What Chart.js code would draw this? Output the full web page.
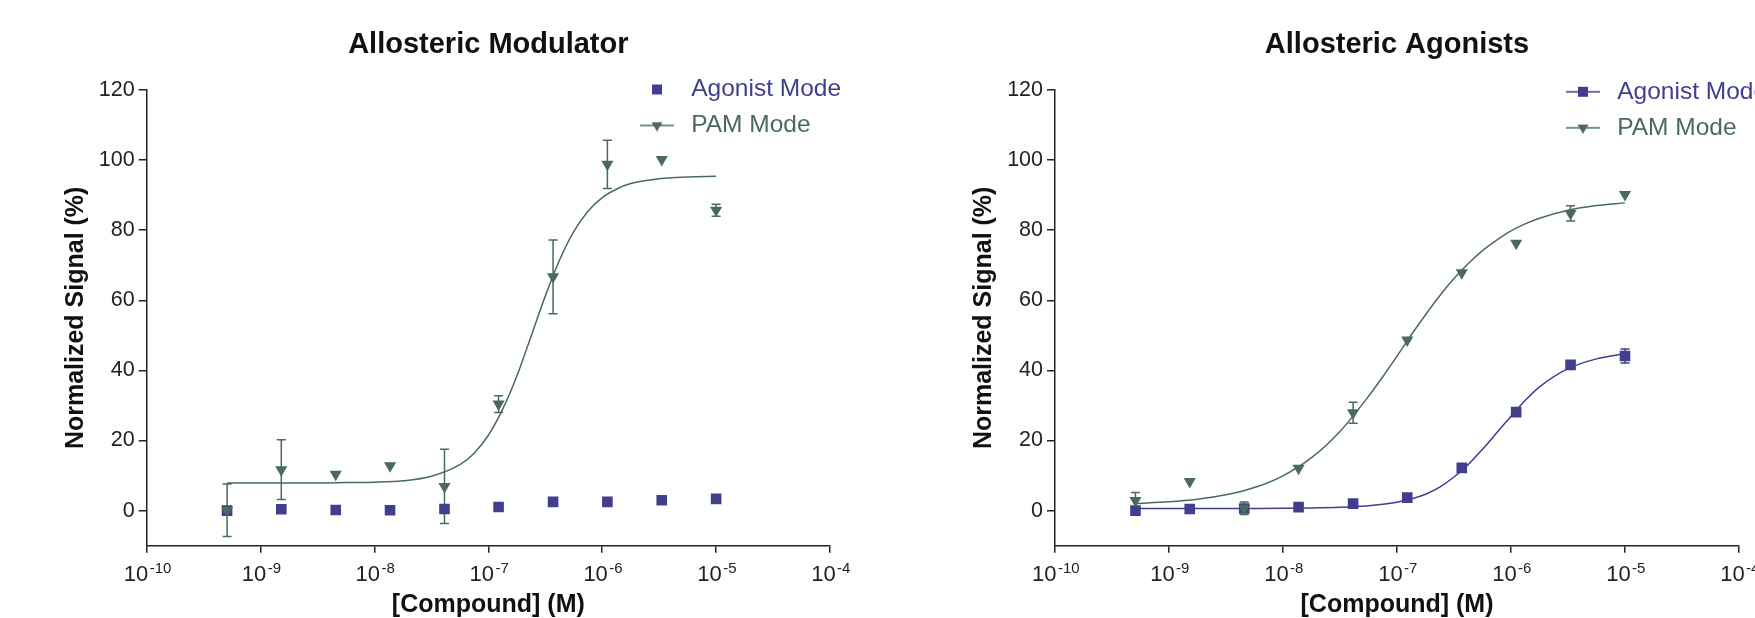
<!DOCTYPE html>
<html>
<head>
<meta charset="utf-8">
<script src="https://cdn.jsdelivr.net/npm/chart.js@4.4.0/dist/chart.umd.min.js"></script>
<style>
html,body{margin:0;padding:0;background:#fff;overflow:hidden;width:1755px;height:618px;}
.c{position:absolute;top:0;}
</style>
</head>
<body>
<div class="c" style="left:0px"><canvas id="c1" width="877" height="618"></canvas></div>
<div class="c" style="left:908px"><canvas id="c2" width="847" height="618"></canvas></div>
<script>
// ---------- DATA ----------
const concentrations = [5.08e-10, 1.52e-9, 4.57e-9, 1.37e-8, 4.12e-8, 1.23e-7, 3.70e-7, 1.11e-6, 3.33e-6, 1.0e-5];
const xTickValues = [1e-10, 1e-9, 1e-8, 1e-7, 1e-6, 1e-5, 1e-4];
const xTickBase = '10';
const xTickExponents = ['-10', '-9', '-8', '-7', '-6', '-5', '-4'];
const yTickValues = [0, 20, 40, 60, 80, 100, 120];

// Allosteric Modulator panel
const modAgonist = [0.0, 0.4, 0.2, 0.1, 0.45, 1.05, 2.5, 2.5, 2.95, 3.35];
const modPam = [0.1, 11.7, 10.4, 12.8, 6.9, 30.4, 66.7, 98.8, 100.2, 85.7];
const modPamErr = [7.5, 8.5, 0, 0, 10.6, 2.4, 10.5, 6.9, 0, 1.7];

// fitted curves
const curveConc = [5.08e-10, 1e-9, 1.78e-9, 3.16e-9, 5.62e-9, 1e-8, 1.78e-8, 3.16e-8, 5.62e-8, 7.5e-8, 1e-7, 1.33e-7, 1.78e-7, 2.37e-7, 3.16e-7, 4.22e-7, 5.62e-7, 7.5e-7, 1e-6, 1.33e-6, 1.78e-6, 3.16e-6, 5.62e-6, 1e-5];
const modPamFit = [7.9, 7.9, 7.9, 7.9, 8.0, 8.1, 8.5, 9.8, 13.1, 16.4, 21.5, 28.8, 38.4, 49.7, 61.2, 71.5, 79.6, 85.4, 89.3, 91.7, 93.3, 94.7, 95.2, 95.4];

// Allosteric Agonists panel
const agoAgonist = [0.0, 0.45, 0.6, 1.0, 2.0, 3.7, 12.2, 28.1, 41.6, 44.1];
const agoAgonistErr = [0, 0, 0, 0, 0, 0, 0, 0, 0, 2.0];
const agoPam = [2.9, 8.3, 0.7, 12.1, 27.9, 48.7, 67.9, 76.3, 84.8, 90.2];
const agoPamErr = [2.3, 0, 1.8, 0, 3.0, 0, 0, 0, 2.2, 0];
const agoAgonistFit = [0.6, 0.6, 0.6, 0.61, 0.63, 0.66, 0.74, 0.94, 1.39, 1.8, 2.42, 3.33, 4.69, 6.7, 9.6, 13.2, 17.5, 22.2, 26.9, 31.4, 35.3, 40.5, 43.3, 44.8];
const agoPamFit = [2.05, 2.53, 3.28, 4.52, 6.58, 9.94, 15.1, 22.6, 32.6, 38.2, 44.1, 50.1, 55.9, 61.3, 66.2, 70.5, 74.2, 77.2, 79.8, 81.8, 83.4, 85.7, 87.05, 87.8];

// ---------- STYLE ----------
const FONT = '"Liberation Sans", Arial, Helvetica, sans-serif';
const AGO = '#413e8e';
const PAM = '#4a6b5a';
const AXIS = '#222222';
Chart.defaults.color = '#222';
Chart.defaults.font.family = FONT;

function zip(xs, ys) { return xs.map((x, i) => ({x: x, y: ys[i]})); }

function makeIcon(color, shape, withLine) {
  const c = document.createElement('canvas');
  c.width = 36; c.height = 18;
  const g = c.getContext('2d');
  if (withLine) {
    g.strokeStyle = color; g.lineWidth = 1.5;
    g.beginPath(); g.moveTo(1, 9); g.lineTo(35, 9); g.stroke();
  }
  g.fillStyle = color;
  if (shape === 'rect') {
    g.fillRect(13, 4, 10, 10);
  } else {
    g.beginPath();
    g.moveTo(18 - 5.5, 9 - 3.3); g.lineTo(18 + 5.5, 9 - 3.3); g.lineTo(18, 9 + 6);
    g.closePath(); g.fill();
  }
  return c;
}

const errorBars = {
  id: 'errorBars',
  beforeDatasetsDraw(chart) {
    const ctx = chart.ctx, xs = chart.scales.x, ys = chart.scales.y;
    chart.data.datasets.forEach(ds => {
      if (!ds.errors) return;
      ctx.save();
      ctx.strokeStyle = ds.borderColor; ctx.lineWidth = 1.5;
      ds.data.forEach((p, i) => {
        const e = ds.errors[i];
        if (!e) return;
        const px = xs.getPixelForValue(p.x);
        const t = ys.getPixelForValue(p.y + e), b = ys.getPixelForValue(p.y - e);
        ctx.beginPath();
        ctx.moveTo(px, t); ctx.lineTo(px, b);
        ctx.moveTo(px - 4.5, t); ctx.lineTo(px + 4.5, t);
        ctx.moveTo(px - 4.5, b); ctx.lineTo(px + 4.5, b);
        ctx.stroke();
      });
      ctx.restore();
    });
  }
};

const xLabels = {
  id: 'xLabels',
  afterDraw(chart) {
    const ctx = chart.ctx, xs = chart.scales.x;
    const base = xs.bottom - (618 - 580.8);
    ctx.save();
    ctx.fillStyle = '#222';
    ctx.textBaseline = 'alphabetic';
    ctx.textAlign = 'left';
    xTickValues.forEach((v, i) => {
      const px = xs.getPixelForValue(v);
      ctx.font = '22px ' + FONT;
      const w1 = ctx.measureText(xTickBase).width;
      ctx.font = '15px ' + FONT;
      const w2 = ctx.measureText(xTickExponents[i]).width;
      const gap = 1.5;
      const start = px - (w1 + gap + w2) / 2 + 0.8;
      ctx.font = '22px ' + FONT;
      ctx.fillText(xTickBase, start, base);
      ctx.font = '15px ' + FONT;
      ctx.fillText(xTickExponents[i], start + w1 + gap, base - 7.6);
    });
    ctx.restore();
  }
};

const LEG_FS = 24.5, LEG_BW = 44, LEG_PAD = 11.5;
const legendPlacer = {
  id: 'legendPlacer',
  afterLayout(chart, args, opts) {
    const lg = chart.legend;
    if (!lg) return;
    lg.left = opts.cx - LEG_BW / 2 - LEG_PAD;
    lg.top = opts.cy - LEG_FS / 2 - LEG_PAD;
    lg.width = 420; lg.height = 120;
    lg.right = lg.left + lg.width;
    lg.bottom = lg.top + lg.height;
  }
};

function buildChart(id, p) {
  const datasets = [
    { label: 'PAM Mode', data: zip(concentrations, p.pam), errors: p.pamErr,
      pointStyle: 'triangle', rotation: 180, pointRadius: 7, pointHoverRadius: 7,
      backgroundColor: PAM, borderColor: PAM, pointBorderWidth: 0, showLine: false },
    { label: 'Agonist Mode', data: zip(concentrations, p.ago), errors: p.agoErr,
      pointStyle: 'rect', pointRadius: 7.5, pointHoverRadius: 7.5,
      backgroundColor: AGO, borderColor: AGO, pointBorderWidth: 0, showLine: false }
  ];
  if (p.agoFit) datasets.push({ label: 'Agonist fit', data: zip(curveConc, p.agoFit), showLine: true,
      pointRadius: 0, borderColor: AGO, borderWidth: 1.5, cubicInterpolationMode: 'monotone', fill: false });
  datasets.push({ label: 'PAM fit', data: zip(curveConc, p.pamFit), showLine: true,
      pointRadius: 0, borderColor: PAM, borderWidth: 1.5, cubicInterpolationMode: 'monotone', fill: false });

  const legendItems = [
    { text: 'Agonist Mode', fontColor: AGO, fillStyle: AGO, strokeStyle: AGO, lineWidth: 0, hidden: false,
      pointStyle: makeIcon(AGO, 'rect', p.agoLine), rotation: 0, datasetIndex: 1 },
    { text: 'PAM Mode', fontColor: PAM, fillStyle: PAM, strokeStyle: PAM, lineWidth: 0, hidden: false,
      pointStyle: makeIcon(PAM, 'tri', true), rotation: 0, datasetIndex: 0 }
  ];

  return new Chart(document.getElementById(id), {
    type: 'scatter',
    data: { datasets: datasets },
    plugins: [legendPlacer, errorBars, xLabels],
    options: {
      responsive: false, animation: false, events: [],
      layout: { padding: { left: 0, right: p.rightPad, top: 0, bottom: 0 } },
      plugins: {
        title: { display: true, text: p.title, fullSize: false, color: '#111',
          font: { family: FONT, size: 29, weight: 'bold', lineHeight: 1.2 }, padding: { top: 27.4, bottom: 27.8 } },
        legend: { display: true, position: 'chartArea', align: 'start',
          labels: { usePointStyle: true, pointStyleWidth: LEG_BW, padding: LEG_PAD,
            font: { family: FONT, size: LEG_FS }, generateLabels: () => legendItems } },
        tooltip: { enabled: false },
        legendPlacer: { cx: p.legendCx, cy: p.legendCy }
      },
      scales: {
        x: {
          type: 'logarithmic', position: 'bottom', min: 1e-10, max: 1e-4,
          afterBuildTicks: s => { s.ticks = xTickValues.map(v => ({ value: v })); },
          afterFit: s => { s.height = 618 - 545.7; s.paddingLeft = 0; s.paddingRight = 0; },
          ticks: { display: false },
          grid: { display: true, drawOnChartArea: false, drawTicks: true, tickLength: 7, color: AXIS, lineWidth: 1.5 },
          border: { display: true, color: AXIS, width: 1.5 },
          title: { display: true, text: '[Compound] (M)', color: '#111',
            font: { family: FONT, size: 25, weight: 'bold', lineHeight: 1.0 }, padding: { top: 0, bottom: 0.5 } }
        },
        y: {
          type: 'linear', position: 'left', min: -10, max: 120,
          afterBuildTicks: s => { s.ticks = yTickValues.map(v => ({ value: v })); },
          afterFit: s => { s.width = p.yAxisWidth; s.paddingTop = 0; s.paddingBottom = 0; },
          ticks: { color: '#222', padding: 4, font: { family: FONT, size: 21.5 } },
          grid: { display: true, drawOnChartArea: false, drawTicks: true, tickLength: 8, color: AXIS, lineWidth: 1.5 },
          border: { display: true, color: AXIS, width: 1.5 },
          title: { display: true, text: 'Normalized Signal (%)', color: '#111',
            font: { family: FONT, size: 25, weight: 'bold' }, padding: { top: 61.5, bottom: 0 } }
        }
      }
    }
  });
}

buildChart('c1', {
  title: 'Allosteric Modulator', yAxisWidth: 146.7, rightPad: 47,
  ago: modAgonist, agoErr: null, agoFit: null, agoLine: false,
  pam: modPam, pamErr: modPamErr, pamFit: modPamFit,
  legendCx: 657, legendCy: 89.5
});
buildChart('c2', {
  title: 'Allosteric Agonists', yAxisWidth: 147, rightPad: 16,
  ago: agoAgonist, agoErr: agoAgonistErr, agoFit: agoAgonistFit, agoLine: true,
  pam: agoPam, pamErr: agoPamErr, pamFit: agoPamFit,
  legendCx: 675, legendCy: 91.8
});
</script>
</body>
</html>
